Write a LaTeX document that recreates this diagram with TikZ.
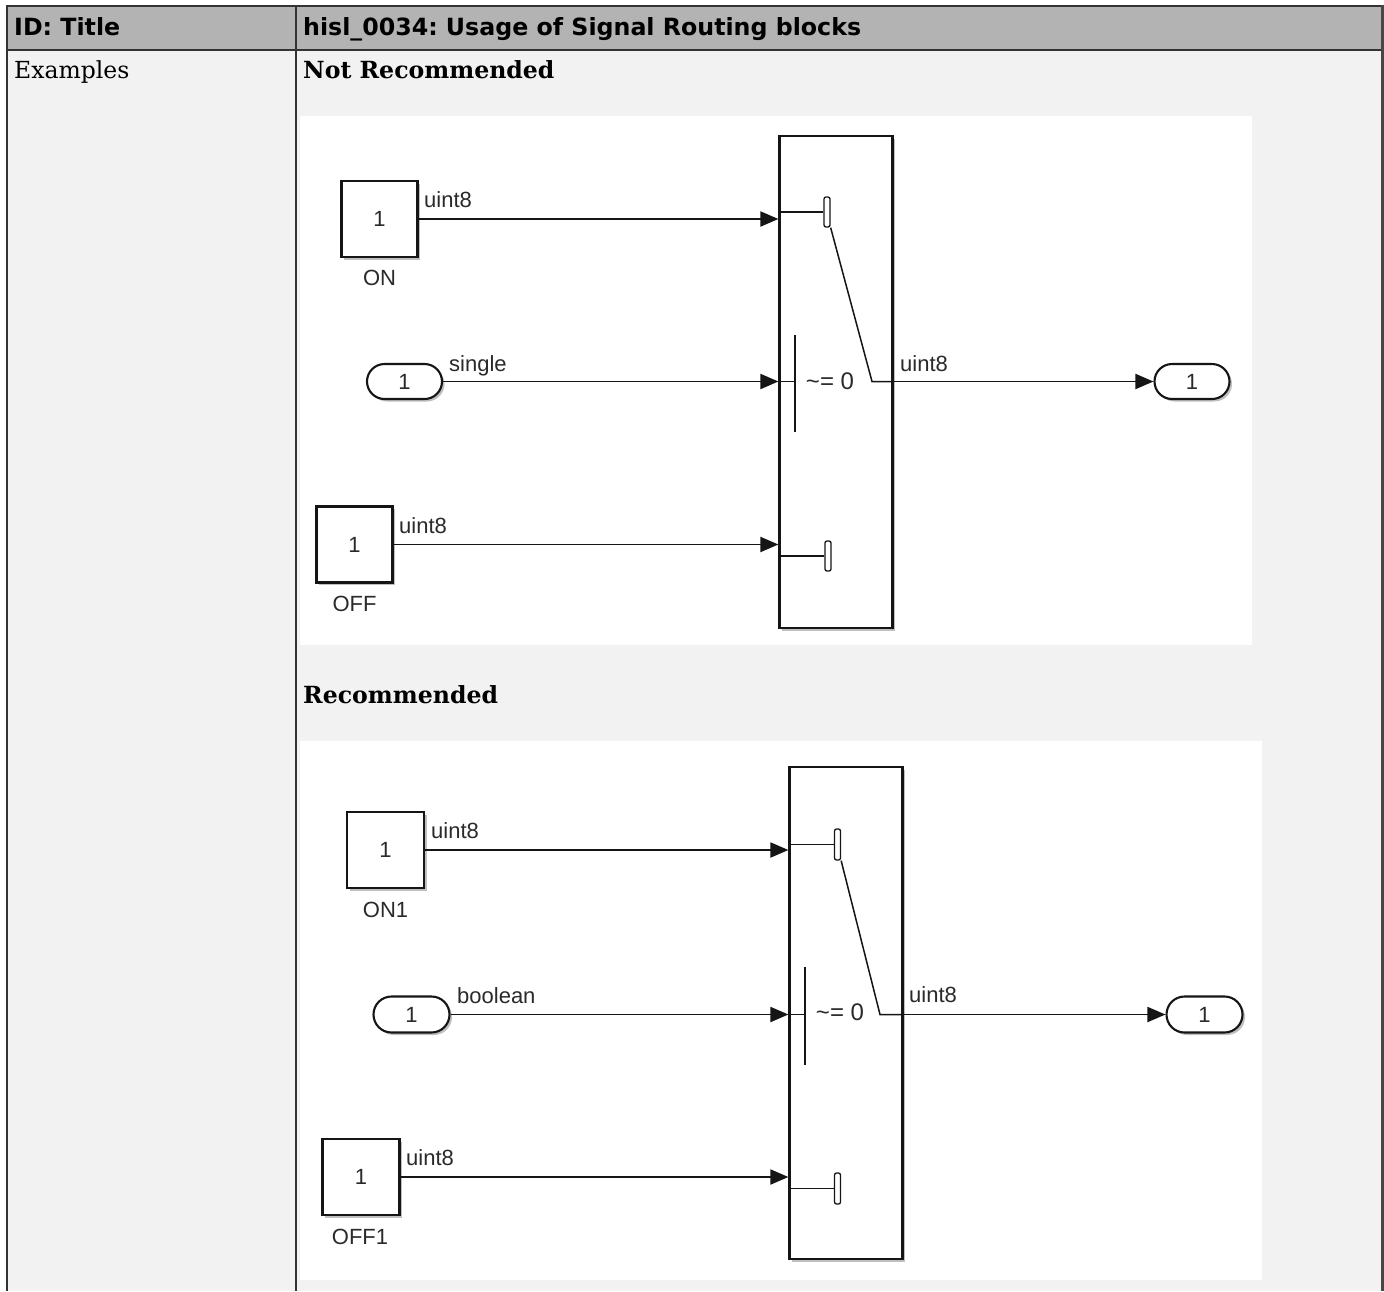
\documentclass[tikz,border=0pt]{standalone}
\usepackage{fontspec}
\setmainfont{DejaVu Serif}
\newfontfamily\hdrfont{DejaVu Sans}
\newfontfamily\slfont{Liberation Sans}
\usetikzlibrary{arrows.meta,shadows,shapes.misc}
\frenchspacing
\definecolor{hdrgray}{HTML}{B3B3B3}
\definecolor{bodygray}{HTML}{F2F2F2}
\definecolor{ink}{HTML}{151515}
\definecolor{txt}{HTML}{2A2A2A}
\definecolor{rule}{HTML}{333333}
\tikzset{
  x=1pt, y=-1pt,
  hdr/.style={font=\hdrfont\bfseries\fontsize{23.7}{28}\selectfont, inner sep=0pt, anchor=base west},
  bodytxt/.style={font=\fontsize{23.5}{28}\selectfont, inner sep=0pt, anchor=base west},
  boldtxt/.style={font=\bfseries\fontsize{23.6}{28}\selectfont, inner sep=0pt, anchor=base west},
  sl/.style={font=\slfont\fontsize{22}{24}\selectfont, text=txt, inner sep=0pt},
  siglbl/.style={sl, anchor=base west},
  condtxt/.style={sl, font=\slfont\fontsize{24}{26}\selectfont},
  shd/.style={drop shadow={shadow xshift=2.5pt, shadow yshift=-2.5pt, opacity=0.25, fill=black}},
  cbox/.style={draw=ink, line width=2.1pt, fill=white, minimum width=76pt, minimum height=76pt, inner sep=0pt, sl, shd},
  pill/.style={rounded rectangle, draw=ink, line width=2.1pt, fill=white, minimum width=75pt, minimum height=35pt, inner sep=0pt, sl, shd},
  swbox/.style={draw=ink, line width=2.2pt, fill=white, minimum width=113pt, minimum height=492pt, inner sep=0pt, shd},
  contact/.style={draw=ink, line width=1.3pt, fill=white, rounded corners=2pt, minimum width=6pt, minimum height=30pt, inner sep=0pt},
  sig/.style={draw=ink, line width=1.9pt, -{Triangle[length=18pt,width=15pt]}},
  wire/.style={draw=ink, line width=1.5pt},
  bar/.style={draw=ink, line width=2pt},
}
\begin{document}
\begin{tikzpicture}
\useasboundingbox (0,0) rectangle (1384,1291);
% table
\fill[white] (0,0) rectangle (1384,1291);
\fill[hdrgray] (7,5.5) rectangle (1382.5,49.5);
\fill[bodygray] (7,49.5) rectangle (1382.5,1291);
\fill[white] (300,116) rectangle (1252,645);
\fill[white] (300,741) rectangle (1262,1280);
\draw[rule, line width=2pt] (7,1291) -- (7,5.5) -- (1382.5,5.5);
\draw[rule, line width=2pt] (7,49.5) -- (1382.5,49.5);
\draw[rule, line width=2pt] (296,5.5) -- (296,1291);
\draw[rule!90!white, line width=3pt] (1382.5,4.5) -- (1382.5,1291);
\node[hdr] (h1) at (14,35) {ID: Title};
\node[hdr] (h2) at (303,35) {hisl\_0034: Usage of Signal Routing blocks};
\node[bodytxt] (ex) at (14,78) {Examples};
\node[boldtxt] (nr) at (303,78) {Not Recommended};
\node[boldtxt] (rc) at (303,703) {Recommended};

% ---------- Not recommended diagram ----------
\node[swbox] (sw) at (836,382) {};
\node[cbox] (on) at (379.5,219) {1};
\node[sl] (onl) at (379.5,278) {ON};
\node[pill] (in1) at (404.5,381.5) {1};
\node[cbox] (off) at (354.5,544.5) {1};
\node[sl] (offl) at (354.5,604) {OFF};
\node[pill] (out1) at (1192,381.5) {1};
\node[contact] (c1) at (827,212) {};
\node[contact] (c3) at (828,556) {};
\coordinate (pv) at (872,381.5);
\coordinate (b1) at (795,335);
\coordinate (b2) at (795,432);
\draw[wire] (sw.west |- c1) -- (c1.west);
\draw[wire] (sw.west |- c3) -- (c3.west);
\draw[wire] (c1.south east) -- (pv) -- (sw.east |- pv);
\draw[wire] (sw.west |- pv) -- (b1 |- pv);
\draw[bar] (b1) -- (b2);
\node[condtxt] (cond1) at (830,381) {\textasciitilde= 0};
\draw[sig] (on.east) -- (on.east -| sw.west);
\draw[sig] (in1.east) -- (in1.east -| sw.west);
\draw[sig] (off.east) -- (off.east -| sw.west);
\draw[sig] (sw.east |- out1.west) -- (out1.west);
\node[siglbl] (l1) at (424,207) {uint8};
\node[siglbl] (l2) at (449,371) {single};
\node[siglbl] (l3) at (399,533) {uint8};
\node[siglbl] (l4) at (900,371) {uint8};

% ---------- Recommended diagram ----------
\node[swbox] (swb) at (846,1013) {};
\node[cbox, minimum width=77pt] (on1) at (385.5,850) {1};
\node[sl] (on1l) at (385.5,909.5) {ON1};
\node[pill, minimum width=76pt, minimum height=36pt] (in2) at (411.5,1014.5) {1};
\node[cbox, minimum width=77pt] (off1) at (361,1177) {1};
\node[sl] (off1l) at (360,1236.5) {OFF1};
\node[pill, minimum width=76pt, minimum height=36pt] (out2) at (1204.5,1014.5) {1};
\node[contact, minimum height=31pt] (c4) at (837.5,844.5) {};
\node[contact, minimum height=31pt] (c6) at (837.5,1188.5) {};
\coordinate (pv2) at (880,1014.5);
\coordinate (b3) at (805,967);
\coordinate (b4) at (805,1065);
\draw[wire] (swb.west |- c4) -- (c4.west);
\draw[wire] (swb.west |- c6) -- (c6.west);
\draw[wire] (c4.south east) -- (pv2) -- (swb.east |- pv2);
\draw[wire] (swb.west |- pv2) -- (b3 |- pv2);
\draw[bar] (b3) -- (b4);
\node[condtxt] (cond2) at (840,1012) {\textasciitilde= 0};
\draw[sig] (on1.east) -- (on1.east -| swb.west);
\draw[sig] (in2.east) -- (in2.east -| swb.west);
\draw[sig] (off1.east) -- (off1.east -| swb.west);
\draw[sig] (swb.east |- out2.west) -- (out2.west);
\node[siglbl] (l5) at (431,838) {uint8};
\node[siglbl] (l6) at (457,1003) {boolean};
\node[siglbl] (l7) at (406,1165) {uint8};
\node[siglbl] (l8) at (909,1002) {uint8};
\end{tikzpicture}
\end{document}
